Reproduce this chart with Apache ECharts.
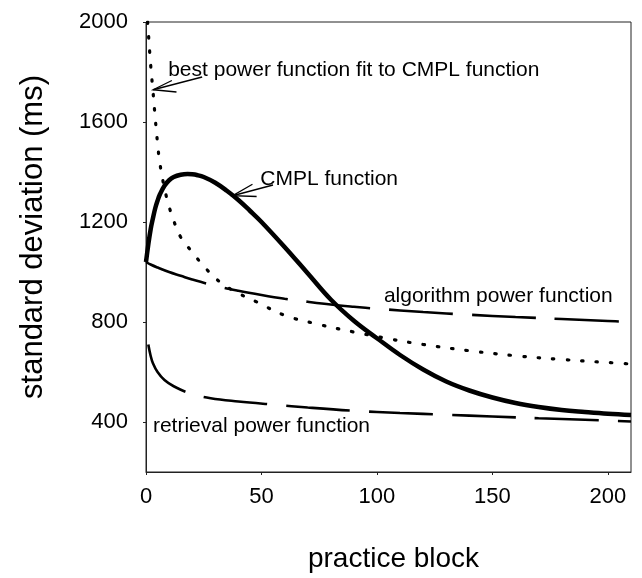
<!DOCTYPE html>
<html><head><meta charset="utf-8">
<script src="https://cdn.jsdelivr.net/npm/echarts@6/dist/echarts.min.js"></script>
<style>html,body{margin:0;padding:0;background:#fff}#c{width:642px;height:578px}</style>
</head><body><div id="c"></div>
<script>
// practice block (x) and standard deviation in ms (y)
const xTicks = [0, 50, 100, 150, 200];
const yTicks = [400, 800, 1200, 1600, 2000];

const cmplBlocks = [0, 1, 2, 3, 4, 5, 6, 8, 10, 12, 15, 18, 20, 22, 25, 30, 35, 40, 45, 50, 60, 70, 80, 90, 100, 110, 120, 130, 140, 150, 160, 170, 180, 190, 200, 210];
const cmplValues = [1040, 1110, 1170, 1215, 1255, 1285, 1310, 1345, 1367, 1380, 1389, 1392, 1391, 1388, 1380, 1357, 1325, 1288, 1245, 1200, 1100, 995, 890, 805, 735, 668, 610, 562, 526, 498, 476, 460, 448, 440, 433, 428];

const fitBlocks = [0.7, 1, 2, 3, 4, 5, 6, 8, 10, 12, 15, 20, 26, 33, 40, 48, 60, 75, 90, 105, 120, 140, 160, 180, 200, 210];
const fitValues = [2000, 1960, 1830, 1725, 1615, 1515, 1435, 1335, 1262, 1205, 1140, 1080, 1013, 953, 915, 880, 827, 790, 760, 733, 710, 685, 665, 650, 638, 632];

const algoBlocks = [0, 2, 5, 10, 15, 20, 30, 40, 50, 60, 70, 80, 90, 100, 120, 140, 160, 180, 200, 210];
const algoValues = [1040, 1030, 1018, 1000, 985, 970, 945, 925, 908, 893, 881, 870, 861, 853, 840, 829, 820, 812, 804, 800];

const retrBlocks = [1, 2, 3, 5, 8, 12, 19, 28, 40, 56, 70, 90, 110, 130, 150, 170, 190, 210];
const retrValues = [710, 665, 635, 600, 568, 543, 515, 495, 482, 469, 458, 445, 436, 429, 422, 415, 409, 402];

const labelTexts = ['best power function fit to CMPL function', 'CMPL function', 'algorithm power function', 'retrieval power function'];

function zip(xs, ys) { return xs.map((x, i) => [x, ys[i]]); }

const FONT = '"Liberation Sans", Arial, Helvetica, sans-serif';
const chart = echarts.init(document.getElementById('c'), null, {renderer: 'canvas'});

const option = {
  backgroundColor: '#fff',
  animation: false,
  grid: {left: 146, right: 11, top: 22, bottom: 104, show: true, borderColor: '#222', borderWidth: 1},
  xAxis: {
    type: 'value', min: 0, max: 210, interval: 50,
    name: 'practice block', nameLocation: 'middle', nameGap: 73,
    nameTextStyle: {fontSize: 28, color: '#000', fontFamily: FONT, padding: [0, 0, 0, 10]},
    axisLine: {show: true, lineStyle: {color: '#222', width: 1}},
    axisTick: {show: true, length: 3, inside: false, customValues: xTicks, lineStyle: {color: '#222'}},
    axisLabel: {fontSize: 22, color: '#000', fontFamily: FONT, margin: 14, customValues: xTicks,
      formatter: v => (v % 50 === 0 ? String(v) : '')},
    splitLine: {show: false}
  },
  yAxis: {
    type: 'value', min: 200, max: 2000, interval: 200,
    name: 'standard deviation (ms)', nameLocation: 'middle', nameGap: 97,
    nameTextStyle: {fontSize: 31, color: '#000', fontFamily: FONT, padding: [0, 0, 0, 20]},
    axisLine: {show: true, lineStyle: {color: '#222', width: 1}},
    axisTick: {show: true, length: 3, inside: false, customValues: yTicks, lineStyle: {color: '#222'}},
    axisLabel: {fontSize: 22, color: '#000', fontFamily: FONT, margin: 18, customValues: yTicks,
      formatter: v => (v % 400 === 0 ? String(v) : '')},
    splitLine: {show: false}
  },
  series: [
    {name: 'CMPL function', type: 'line', data: zip(cmplBlocks, cmplValues), showSymbol: false, smooth: 0.4,
     lineStyle: {color: '#000', width: 4.5}},
    {name: 'best power function fit', type: 'line', data: zip(fitBlocks, fitValues), showSymbol: false, smooth: 0.4,
     lineStyle: {color: '#000', width: 3.2, type: [1.5, 13], cap: 'round'}},
    {name: 'algorithm power function', type: 'line', data: zip(algoBlocks, algoValues), showSymbol: false, smooth: 0.4,
     lineStyle: {color: '#000', width: 2.6, type: [64, 19]}},
    {name: 'retrieval power function', type: 'line', data: zip(retrBlocks, retrValues), showSymbol: false, smooth: 0.4,
     lineStyle: {color: '#000', width: 2.6, type: [64, 19]}}
  ]
};
chart.setOption(option);

// annotation arrows anchored in data coordinates: [tail, tip, arm1, arm2]
const arrows = [
  [[24.3, 1780], [3.1, 1729], [11.2, 1766], [13.2, 1720]],
  [[55, 1348], [37.5, 1305], [46.1, 1351], [47.9, 1302]]
];
// label anchors (left, vertical middle) in data coordinates
const labelAnchors = [[9.6, 1808], [49.5, 1370], [103, 905], [3, 385]];

const P = p => chart.convertToPixel({gridIndex: 0}, p);
const graphics = [];
arrows.forEach(a => {
  const [tail, tip, a1, a2] = a.map(P);
  graphics.push({type: 'polyline', shape: {points: [tail, tip]}, style: {stroke: '#000', lineWidth: 1.3, fill: null}});
  graphics.push({type: 'polyline', shape: {points: [a1, tip, a2]}, style: {stroke: '#000', lineWidth: 1.3, fill: null}});
});
labelTexts.forEach((t, i) => {
  const p = P(labelAnchors[i]);
  graphics.push({type: 'text', x: p[0], y: p[1], style: {text: t, fill: '#000', font: '21px ' + FONT, align: 'left', verticalAlign: 'middle'}});
});
chart.setOption({graphic: graphics});
</script>
</body></html>
